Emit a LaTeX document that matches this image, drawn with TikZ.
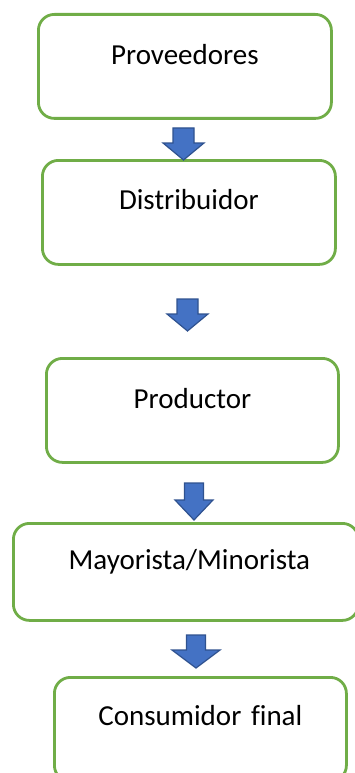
\documentclass[tikz,border=0pt]{standalone}
\usepackage{fontspec}
\setmainfont{Carlito}[Ligatures=NoCommon]
\definecolor{boxgreen}{HTML}{70AD47}
\definecolor{arrowblue}{HTML}{4472C4}
\definecolor{arrowedge}{HTML}{2F528F}
% block arrow: #1 centre x, #2 top, #3 half shaft, #4 half head, #5 head base y, #6 tip y
\newcommand{\blockarrowdown}[6]{%
  \draw[flowarrow] (#1-#3,#2) -- (#1+#3,#2) -- (#1+#3,#5) -- (#1+#4,#5)
    -- (#1,#6) -- (#1-#4,#5) -- (#1-#3,#5) -- cycle;}
\begin{document}
\begin{tikzpicture}[x=1pt,y=-1pt,
  stepbox/.style={rectangle, rounded corners=16pt, draw=boxgreen, line width=2.8pt,
    fill=white, inner sep=0pt, align=center, anchor=north west,
    font=\fontsize{29}{34}\selectfont},
  flowarrow/.style={fill=arrowblue, draw=arrowedge, line width=1.2pt, line join=miter}]
\useasboundingbox (0,0) rectangle (355,773);
\clip (0,0) rectangle (355,773);
\node[stepbox, text width=293pt, text height=50pt, text depth=54pt] (p) at (37,13) {Proveedores};
\node[stepbox, text width=293pt, text height=49pt, text depth=55pt] (d) at (41,159) {Distribuidor};
\node[stepbox, text width=292pt, text height=50pt, text depth=54pt] (r) at (45,357) {Productor};
\node[stepbox, text width=345pt, text height=46pt, text depth=51pt] (m) at (12,522) {\hspace*{7pt}Mayorista/Minorista};
\node[stepbox, text width=292pt, text height=48pt, text depth=56pt] (c) at (53,676) {Consumidor final};
\blockarrowdown{183.5}{128}{10.5}{20.5}{143}{160}
\blockarrowdown{187.5}{299}{10.5}{20.5}{314}{331}
\blockarrowdown{194}{483}{9.5}{19}{500}{520}
\blockarrowdown{196}{635}{9.5}{24}{650}{668}
\end{tikzpicture}
\end{document}
